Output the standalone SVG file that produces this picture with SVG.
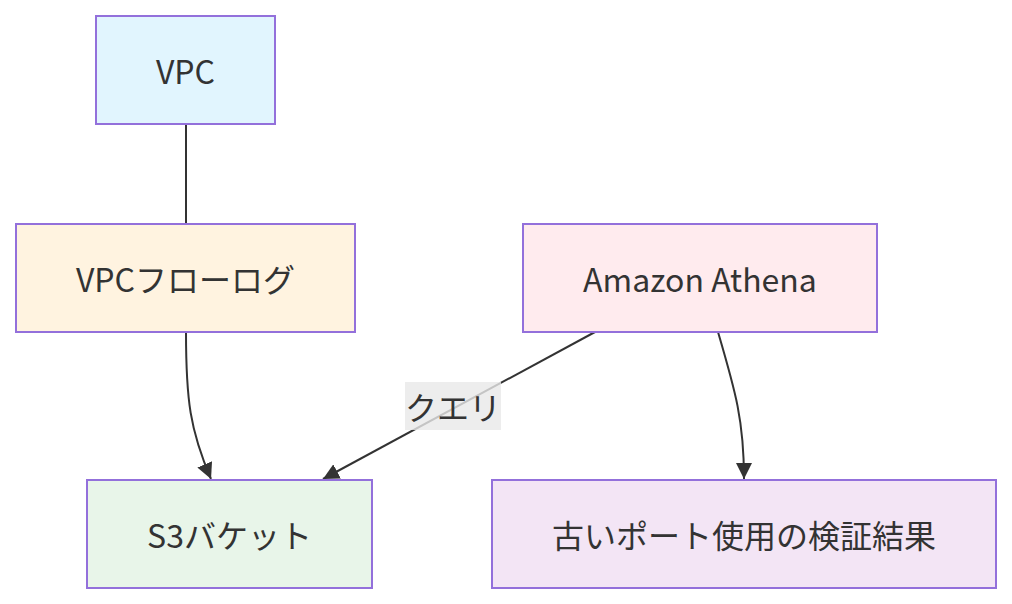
<svg xmlns="http://www.w3.org/2000/svg" width="1012" height="604" viewBox="0 0 1012 604">
<defs>
<marker id="arr" viewBox="0 0 10 10" refX="10" refY="5" markerWidth="16" markerHeight="16" markerUnits="userSpaceOnUse" orient="auto">
<path d="M0,0 L10,5 L0,10 z" fill="#333"/>
</marker>
<style>
.node rect{stroke:#9370db;stroke-width:2}
.node text{font-family:"Noto Sans CJK JP","Noto Sans",sans-serif;font-size:32px;fill:#333;text-anchor:middle;dominant-baseline:central}
.edge{fill:none;stroke:#333;stroke-width:2}
.lbl{font-family:"Noto Sans CJK JP","Noto Sans",sans-serif;font-size:32px;fill:#333;text-anchor:middle;dominant-baseline:central}
</style>
</defs>
<rect width="1012" height="604" fill="#fff"/>
<g id="connectors">
<path class="edge" d="M186,124 L186,224"/>
<path class="edge" d="M186,332 C186,400 190,430 211,479" marker-end="url(#arr)"/>
<path class="edge" d="M595,332 L323,479" marker-end="url(#arr)"/>
<path class="edge" d="M718,332 C735,390 744,420 744,479" marker-end="url(#arr)"/>
<rect x="405" y="382" width="96" height="48" fill="#e8e8e8" opacity="0.8"/>
<text class="lbl" x="453" y="406">クエリ</text>
</g>
<g id="vpc" class="node"><rect x="96" y="16" width="179" height="108" fill="#e1f5fe"/><text x="185.5" y="70">VPC</text></g>
<g id="flowlog" class="node"><rect x="16" y="224" width="339" height="108" fill="#fff3e0"/><text x="185.5" y="278">VPCフローログ</text></g>
<g id="athena" class="node"><rect x="523" y="224" width="354" height="108" fill="#ffebee"/><text x="700" y="278">Amazon Athena</text></g>
<g id="s3" class="node"><rect x="87" y="480" width="285" height="108" fill="#e8f5e9"/><text x="229.5" y="534">S3バケット</text></g>
<g id="result" class="node"><rect x="492" y="480" width="504" height="108" fill="#f3e5f5"/><text x="744" y="534">古いポート使用の検証結果</text></g>
</svg>
